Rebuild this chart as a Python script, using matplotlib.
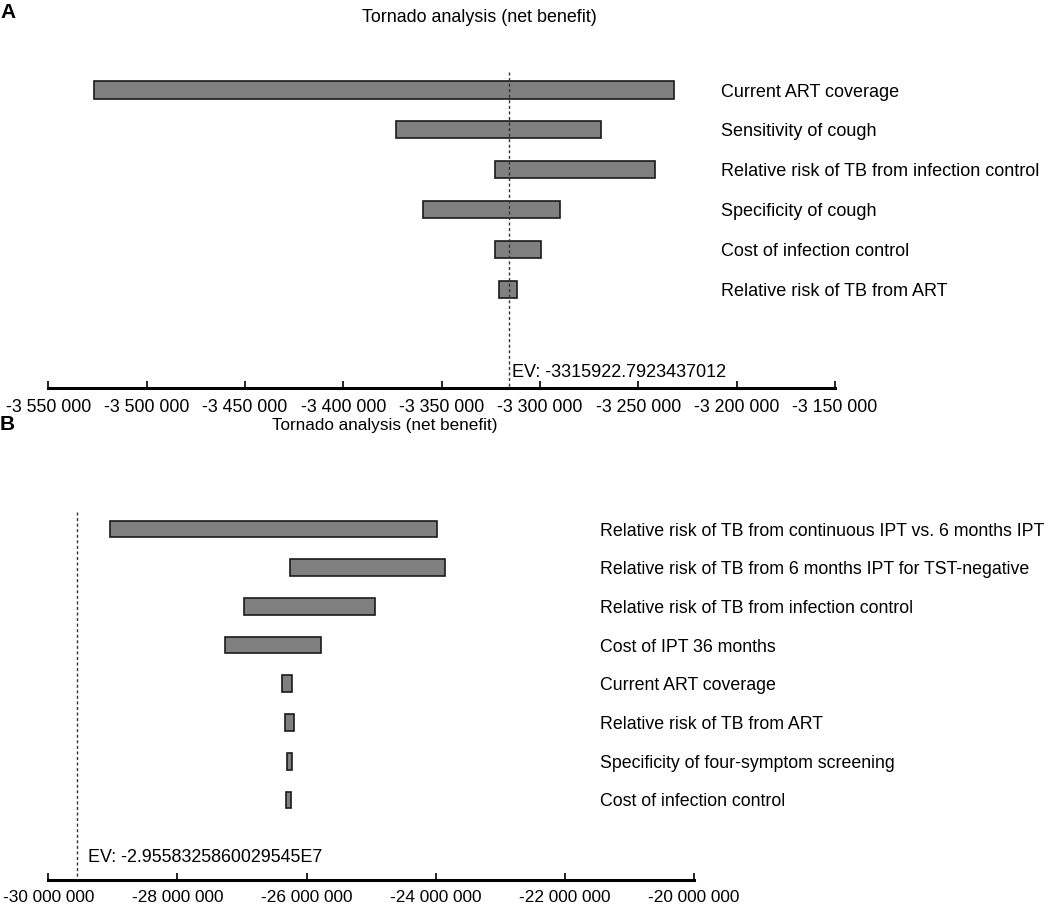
import matplotlib
matplotlib.use("Agg")
import matplotlib.pyplot as plt
import matplotlib.transforms as mtransforms
from matplotlib.ticker import FuncFormatter, MultipleLocator

plt.rcParams['font.family'] = ['Liberation Sans', 'DejaVu Sans']

# Panel A data
labels_a = ['Current ART coverage', 'Sensitivity of cough',
            'Relative risk of TB from infection control', 'Specificity of cough',
            'Cost of infection control', 'Relative risk of TB from ART']
low_a = [-3526600, -3373300, -3323050, -3359600, -3323050, -3321000]
high_a = [-3232050, -3269200, -3241600, -3290000, -3299500, -3311500]
ev_a = -3315922.7923437012

# Panel B data
labels_b = ['Relative risk of TB from continuous IPT vs. 6 months IPT',
            'Relative risk of TB from 6 months IPT for TST-negative',
            'Relative risk of TB from infection control', 'Cost of IPT 36 months',
            'Current ART coverage', 'Relative risk of TB from ART',
            'Specificity of four-symptom screening', 'Cost of infection control']
low_b = [-29044000, -26257600, -26962300, -27264500, -26385600, -26339300, -26308500, -26323900]
high_b = [-23975000, -23856700, -24936100, -25779600, -26231400, -26191300, -26231400, -26246800]
ev_b = -2.9558325860029545E7


def fmt(v, pos):
    return f"{int(round(v)):,}".replace(",", " ")


def tornado(ax, labels, low, high, ev, ev_text, xlim, step, ylim, dash_top, ev_y,
            fs_lab, fs_tick, fs_ev, ev_dx, pad):
    y = list(range(len(labels)))
    widths = [h - l for l, h in zip(low, high)]
    ax.barh(y, widths, left=low, height=0.43, color='#808080',
            edgecolor='#1a1a1a', linewidth=1.2, zorder=2)
    ax.vlines(ev, dash_top, ylim[0], colors='#333333', linestyles=(0, (2.2, 1.8)),
              linewidth=1.0, zorder=3)
    ax.set_xlim(*xlim)
    ax.set_ylim(*ylim)
    ax.xaxis.set_major_locator(MultipleLocator(step))
    ax.xaxis.set_major_formatter(FuncFormatter(fmt))
    ax.tick_params(axis='x', direction='in', length=5, width=1.2, pad=pad, labelsize=fs_tick)
    ax.set_yticks([])
    for s in ['top', 'right', 'left']:
        ax.spines[s].set_visible(False)
    ax.spines['bottom'].set_linewidth(2.2)
    trans = mtransforms.blended_transform_factory(ax.transAxes, ax.transData)
    for i, lab in enumerate(labels):
        ax.text(0.855, i, lab, transform=trans, va='center_baseline', ha='left',
                fontsize=fs_lab, clip_on=False)
    ax.annotate(ev_text, xy=(ev, ev_y), xytext=(ev_dx, 0), textcoords='offset points',
                va='center', ha='left', fontsize=fs_ev)


fig = plt.figure(figsize=(10.5, 9.05), dpi=100)

ax_a = fig.add_axes([48.3 / 1050, 1 - 387.7 / 905, 786.7 / 1050, 337.7 / 905])
tornado(ax_a, labels_a, low_a, high_a, ev_a, 'EV: -3315922.7923437012',
        (-3550000, -3150000), 50000, (7.461, -1.0025), -0.45, 7.085,
        13.0, 12.8, 13.0, 2.5, 8)

ax_b = fig.add_axes([48.3 / 1050, 1 - 880 / 905, 645.7 / 1050, 390 / 905])
tornado(ax_b, labels_b, low_b, high_b, ev_b, 'EV: -2.9558325860029545E7',
        (-30000000, -20000000), 2000000, (9.07, -1.008), -0.447, 8.50,
        12.8, 12.4, 12.9, 8, 7.5)

fig.text(0.0, 1 - 12 / 905, 'A', fontsize=15, fontweight='bold', va='center', ha='left')
fig.text(0.0, 1 - 424 / 905, 'B', fontsize=15, fontweight='bold', va='center', ha='left')
fig.text(479 / 1050, 1 - 17 / 905, 'Tornado analysis (net benefit)', fontsize=12.9,
         ha='center', va='center')
fig.text(385 / 1050, 1 - 425 / 905, 'Tornado analysis (net benefit)', fontsize=12.3,
         ha='center', va='center')

fig.savefig('out.png', dpi=100)
